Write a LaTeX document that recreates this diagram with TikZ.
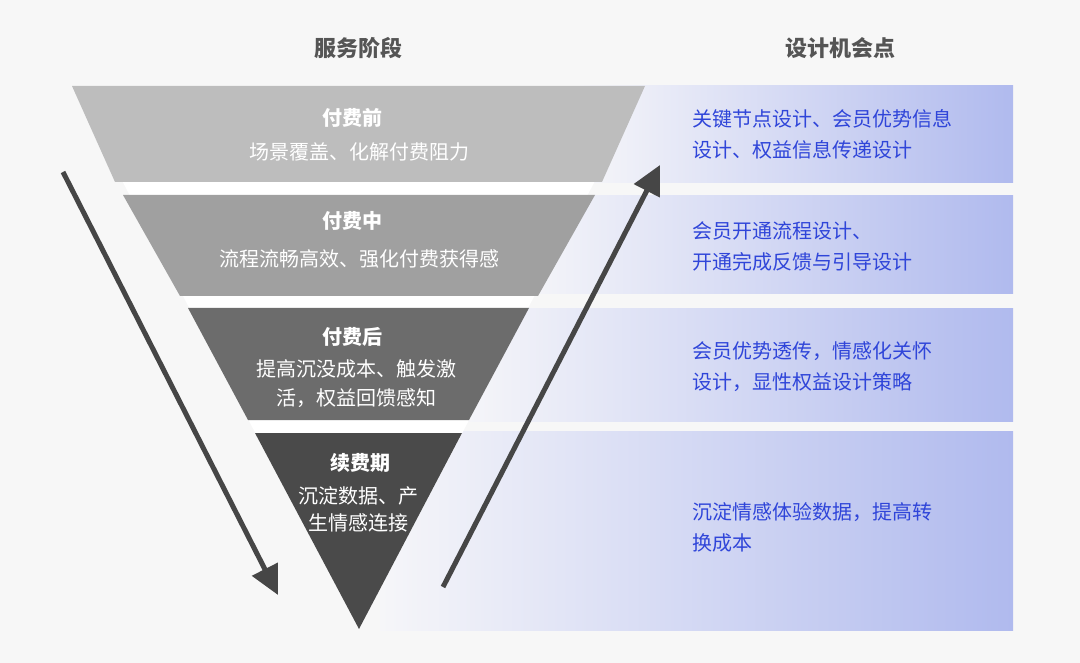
\documentclass[tikz,border=0pt]{standalone}
\usepackage{fontspec}
\setmainfont{Noto Sans CJK SC}
\usetikzlibrary{arrows.meta}
\definecolor{bgGray}{HTML}{F7F7F7}
\definecolor{bandA}{HTML}{BDBDBD}
\definecolor{bandB}{HTML}{A0A0A0}
\definecolor{bandC}{HTML}{6C6C6C}
\definecolor{bandD}{HTML}{4A4A4A}
\definecolor{arrowGray}{HTML}{464646}
\definecolor{headGray}{HTML}{555555}
\definecolor{oppBlue}{HTML}{2F45D9}
\definecolor{boxL}{HTML}{F6F6F9}
\definecolor{boxR}{HTML}{B0BAEE}

\begin{document}
\begin{tikzpicture}[x=1pt,y=-1pt,
  stage/.style={text=white, font=\fontsize{20}{28}\selectfont\bfseries},
  note/.style={text=white, font=\fontsize{20}{29}\selectfont, align=center},
  chance/.style={text=oppBlue, font=\fontsize{20}{31}\selectfont, align=left, anchor=west, inner sep=0pt},
  head/.style={text=headGray, font=\fontsize{22}{26}\selectfont\bfseries},
  oppbox/.style={left color=boxL, right color=boxR}]

% background
\fill[bgGray] (0,0) rectangle (1080,663);
\useasboundingbox (0,0) rectangle (1080,663);

% opportunity boxes
\shade[oppbox] (580,86) rectangle (1013,183);
\shade[oppbox] (520,196) rectangle (1013,294);
\shade[oppbox] (460,309) rectangle (1013,421);
\shade[oppbox] (380,431) rectangle (1013,630);

% funnel
\fill[white] (72,86) -- (645,86) -- (359,629) -- cycle;
\fill[bandA] (72,86) -- (645,86) -- (602,182) -- (115,182) -- cycle;
\fill[bandB] (123,195) -- (595,195) -- (538,296) -- (180,296) -- cycle;
\fill[bandC] (188,308) -- (529,308) -- (469,420) -- (248,420) -- cycle;
\fill[bandD] (255,433) -- (462,433) -- (359,629) -- cycle;

\node[head] (H1) at (358,48) {服务阶段};
\node[head] (H2) at (840,48) {设计机会点};

\node[stage] (T1) at (352,118) {付费前};
\node[note] (S1) at (359,152) {场景覆盖、化解付费阻力};
\node[stage] (T2) at (352,221) {付费中};
\node[note] (S2) at (359,259) {流程流畅高效、强化付费获得感};
\node[stage] (T3) at (352,337) {付费后};
\node[note] (S3) at (356,384) {提高沉没成本、触发激\\活，权益回馈感知};
\node[stage] (T4) at (360,463) {续费期};
\node[note, font=\fontsize{20}{27}\selectfont] (S4) at (358,509) {沉淀数据、产\\生情感连接};

\node[chance] (B1) at (692,134) {关键节点设计、会员优势信息\\设计、权益信息传递设计};
\node[chance] (B2) at (692,246) {会员开通流程设计、\\开通完成反馈与引导设计};
\node[chance] (B3) at (692,367) {会员优势透传，情感化关怀\\设计，显性权益设计策略};
\node[chance] (B4) at (692,527) {沉淀情感体验数据，提高转\\换成本};

\coordinate (D1) at (63,172);
\coordinate (D2) at (278,595);
\coordinate (U1) at (443,587);
\coordinate (U2) at (660,165);

\path[->, arrowGray, >={Triangle[length=29pt,width=28pt]}, line width=5pt] (D1) edge [] node[]{} (D2);
\path[->, arrowGray, >={Triangle[length=29pt,width=28pt]}, line width=5pt] (U1) edge [] node[]{} (U2);

\end{tikzpicture}
\end{document}
